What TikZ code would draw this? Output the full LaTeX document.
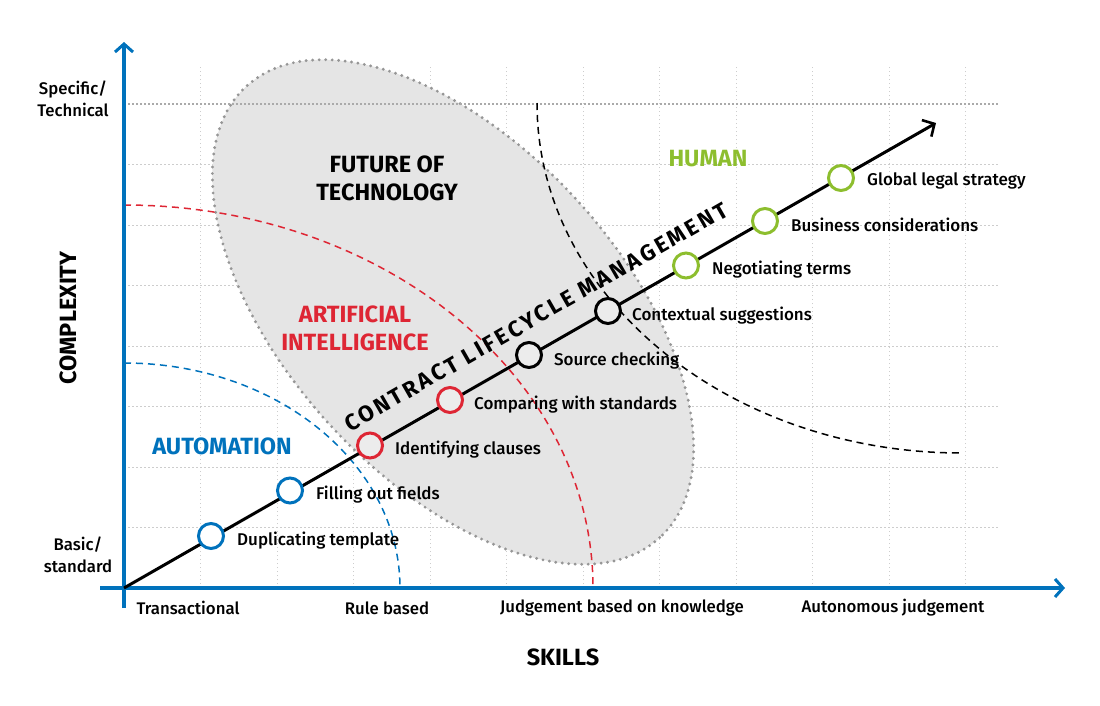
\documentclass[tikz,border=0pt]{standalone}
\usepackage{fontspec}
\setmainfont{Fira Sans}[UprightFont=* Medium, BoldFont=* Bold]
\newfontfamily\spacedfont{Fira Sans}[UprightFont=* Bold, BoldFont=* Bold, LetterSpace=13]
\usetikzlibrary{arrows.meta,calc}
\definecolor{axblue}{RGB}{0,114,188}
\definecolor{aired}{RGB}{222,38,52}
\definecolor{humgreen}{RGB}{141,190,46}
\definecolor{ellfill}{RGB}{229,229,229}
\definecolor{elldot}{RGB}{150,150,150}
\definecolor{gridgray}{RGB}{205,205,205}
\definecolor{topgray}{RGB}{170,170,170}
\definecolor{cgray}{RGB}{236,236,236}
\tikzset{
  gridline/.style={gridgray, line width=1pt, dash pattern=on 1.5pt off 2.5pt},
  axisline/.style={axblue, line width=3.5pt, -{Straight Barb[length=8pt,width=18pt,line width=3pt]}},
  diag/.style={black, line width=3pt, -{Straight Barb[length=9pt,width=19pt,line width=2.6pt]}},
  stage/.style={circle, line width=3pt, minimum size=25pt, inner sep=0pt},
  bluestage/.style={stage, draw=axblue, fill=white},
  redstage/.style={stage, draw=aired, fill=cgray},
  blackstage/.style={stage, draw=black, fill=cgray},
  greenstage/.style={stage, draw=humgreen, fill=white},
  lbl/.style={anchor=west, font=\fontsize{17}{20}\selectfont, inner sep=0pt},
  axlbl/.style={font=\fontsize{16.8}{22}\selectfont, inner sep=0pt, align=center},
  title/.style={font=\fontsize{23.5}{28}\selectfont\bfseries, inner sep=0pt, align=center},
  arcline/.style={line width=1.5pt, dash pattern=on 7pt off 5pt},
}
\begin{document}
\begin{tikzpicture}[x=1pt,y=-1pt]
\useasboundingbox (0,0) rectangle (1100,705);
% grid
\foreach \k in {1,...,11} \draw[gridline] ({124+76.5*\k},588) -- ({124+76.5*\k},65);
\foreach \k in {1,...,7} \draw[gridline] (124,{588-60.5*\k}) -- (1000,{588-60.5*\k});
% ellipse
\draw[shift={(453,312)}, rotate=-47.5, fill=ellfill, draw=elldot, line width=3.2pt, line cap=round, dash pattern=on 0pt off 6.5pt] (0,0) ellipse [x radius=306, y radius=167];
% top level line
\coordinate (topl) at (124,104);
\coordinate (topr) at (1000,104);
\draw[topgray, line width=1.2pt, dash pattern=on 1.5pt off 2.5pt] (topl) -- (topr);
% dashed arcs
\coordinate (o) at (124,588);
\draw[arcline, aired] (124,205) arc[start angle=-90, end angle=0, x radius=469, y radius=383];
\draw[arcline, axblue] (124,363) arc[start angle=-90, end angle=0, x radius=276, y radius=225];
\draw[arcline, black] (537,103) arc[start angle=180, end angle=90, x radius=425, y radius=350];
% axes
\coordinate (ybot) at (124,608);
\coordinate (ytop) at (124,42);
\coordinate (xl) at (100,588);
\coordinate (xr) at (1065,588);
\draw[axisline] (ybot) -- (ytop);
\draw[axisline] (xl) -- (xr);
% diagonal
\coordinate (dend) at (936,123);
\draw[diag] (o) -- (dend);
% stages
\node[bluestage] (s1) at (211,536) {};
\node[bluestage] (s2) at (290,490.5) {};
\node[redstage] (s3) at (370,445.5) {};
\node[redstage] (s4) at (450,400) {};
\node[blackstage] (s5) at (529,355) {};
\node[blackstage] (s6) at (608,311) {};
\node[greenstage] (s7) at (686,265.5) {};
\node[greenstage] (s8) at (765,221) {};
\node[greenstage] (s9) at (841,178) {};
\node[lbl] (l1) at (237,541) {Duplicating template};
\node[lbl] (l2) at (316,495) {Filling out fields};
\node[lbl] (l3) at (395,450) {Identifying clauses};
\node[lbl] (l4) at (474,405) {Comparing with standards};
\node[lbl] (l5) at (554,361) {Source checking};
\node[lbl] (l6) at (632,316) {Contextual suggestions};
\node[lbl] (l7) at (712,270) {Negotiating terms};
\node[lbl] (l8) at (791,225) {Business considerations};
\node[lbl] (l9) at (867,181) {Global legal strategy};
% axis labels
\node[axlbl] (t1) at (188,608) {Transactional};
\node[axlbl] (t2) at (387,608) {Rule based};
\node[axlbl] (t3) at (622,608) {Judgement based on knowledge};
\node[axlbl] (t4) at (893,608) {Autonomous judgement};
\node[axlbl] (ytopl) at (73,99) {Specific/\\Technical};
\node[axlbl] (ybotl) at (78,555) {Basic/\\standard};
\node[title] (skills) at (563,657) {SKILLS};
\node[title, rotate=90] (cplx) at (68,318) {COMPLEXITY};
% region titles
\node[title, black] (fut) at (387,178) {FUTURE OF\\TECHNOLOGY};
\node[title, aired] (ai) at (355,328) {ARTIFICIAL\\INTELLIGENCE};
\node[title, axblue] (auto) at (222,446) {AUTOMATION};
\node[title, humgreen] (hum) at (708,159) {HUMAN};
% CLM
\node[inner sep=0pt, rotate=29.8, font=\spacedfont\fontsize{22.5}{24}\selectfont] (clm) at (536,317) {CONTRACT LIFECYCLE MANAGEMENT};
\end{tikzpicture}
\end{document}
